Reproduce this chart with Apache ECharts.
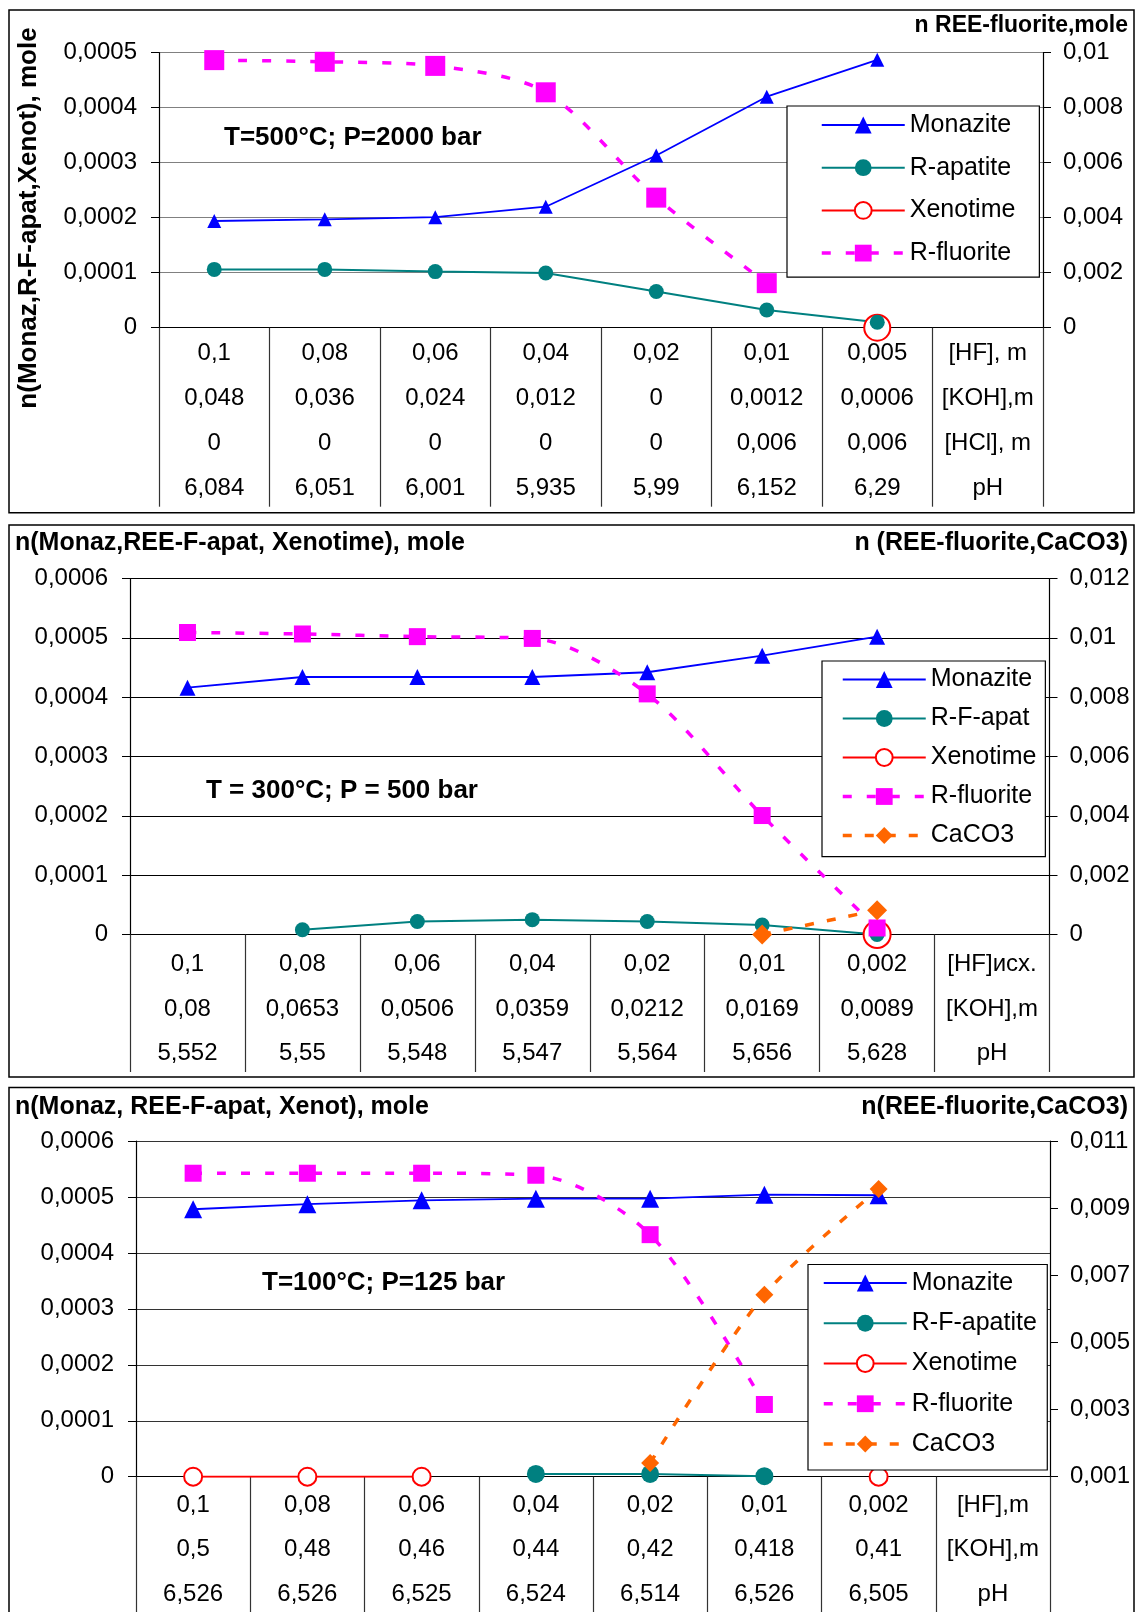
<!DOCTYPE html>
<html><head><meta charset="utf-8">
<script src="https://cdn.jsdelivr.net/npm/echarts/dist/echarts.min.js"></script>
<style>html,body{margin:0;padding:0;background:#fff}#c{width:1136px;height:1612px}</style>
</head><body><div id="c"></div>
<script>
// ---------- Panel 1: T=500°C; P=2000 bar ----------
const p1HF  = ['0,1','0,08','0,06','0,04','0,02','0,01','0,005','[HF], m'];
const p1KOH = ['0,048','0,036','0,024','0,012','0','0,0012','0,0006','[KOH],m'];
const p1HCl = ['0','0','0','0','0','0,006','0,006','[HCl], m'];
const p1pH  = ['6,084','6,051','6,001','5,935','5,99','6,152','6,29','pH'];
const p1Monazite = [0.000194, 0.000197, 0.000201, 0.00022, 0.000313, 0.00042, 0.000487];
const p1Apatite  = [0.000106, 0.000106, 0.000102, 0.0000994, 0.0000659, 0.0000323, 0.0000098];
const p1Xenotime = [null, null, null, null, null, null, 0];
const p1Fluorite = [0.00973, 0.00967, 0.00952, 0.00856, 0.00473, 0.00162, null];

// ---------- Panel 2: T = 300°C; P = 500 bar ----------
const p2HF  = ['0,1','0,08','0,06','0,04','0,02','0,01','0,002','[HF]исх.'];
const p2KOH = ['0,08','0,0653','0,0506','0,0359','0,0212','0,0169','0,0089','[KOH],m'];
const p2pH  = ['5,552','5,55','5,548','5,547','5,564','5,656','5,628','pH'];
const p2Monazite = [0.000416, 0.000434, 0.000434, 0.000434, 0.000442, 0.00047, 0.000502];
const p2Apatite  = [null, 0.000008, 0.000022, 0.000025, 0.000022, 0.000016, 0];
const p2Xenotime = [null, null, null, null, null, null, 0];
const p2Fluorite = [0.01018, 0.01013, 0.01004, 0.00998, 0.00811, 0.00401, 0.00022];
const p2CaCO3    = [null, null, null, null, null, 0, 0.00082];

// ---------- Panel 3: T=100°C; P=125 bar ----------
const p3HF  = ['0,1','0,08','0,06','0,04','0,02','0,01','0,002','[HF],m'];
const p3KOH = ['0,5','0,48','0,46','0,44','0,42','0,418','0,41','[KOH],m'];
const p3pH  = ['6,526','6,526','6,525','6,524','6,514','6,526','6,505','pH'];
const p3Monazite = [0.000478, 0.000487, 0.000494, 0.000497, 0.000497, 0.000504, 0.000503];
const p3Apatite  = [null, null, null, 0.000005, 0.000005, 0.000001, null];
const p3Xenotime = [0, 0, 0, null, null, null, 0];
const p3Fluorite = [0.01004, 0.01004, 0.01004, 0.00998, 0.00821, 0.00315, null];
const p3CaCO3    = [null, null, null, null, 0.00141, 0.00642, 0.00957];

const FONT = '"Liberation Sans", Arial, sans-serif';
const C_MON = '#0000FF', C_APA = '#008080', C_XEN = '#FF0000', C_FLU = '#FF00FF', C_CAC = '#FF6600';

function fmt(v){ if (Math.abs(v) < 1e-12) return '0'; return String(+v.toFixed(6)).replace('.', ','); }
function cats(){ const rows = Array.from(arguments); return rows[0].map((_, i) => rows.map(r => r[i]).join('\n')); }

const grids = [
  {left:159, right:93, top:52.7, height:275},
  {left:130, right:86.5, top:578.5, height:356},
  {left:136, right:86, top:1141, height:335.7}
];
const gridColors = ['#808080', '#000000', '#333333'];
const tickLen = [179, 137.5, 140];
const labMargin = [3, 7.5, 6];
const labLH = [45, 44.7, 44.5];
const catData = [cats(p1HF, p1KOH, p1HCl, p1pH), cats(p2HF, p2KOH, p2pH), cats(p3HF, p3KOH, p3pH)];
const rightAx = [{min:0, max:0.01, interval:0.002}, {min:0, max:0.012, interval:0.002}, {min:0.001, max:0.011, interval:0.002}];
const leftAx = [{min:0, max:0.0005, interval:0.0001}, {min:0, max:0.0006, interval:0.0001}, {min:0, max:0.0006, interval:0.0001}];

const xAxis = [], yAxis = [];
for (let g = 0; g < 3; g++) {
  xAxis.push({
    type:'category', gridIndex:g, data:catData[g], boundaryGap:true,
    axisLine:{show:true, onZero:false, lineStyle:{color:'#000', width:1.2}},
    axisTick:{show:true, interval:0, length:tickLen[g], lineStyle:{color:'#333', width:1.2}},
    axisLabel:{interval:0, margin:labMargin[g], color:'#000', fontSize:24, lineHeight:labLH[g], fontFamily:FONT, hideOverlap:false},
    splitLine:{show:false}
  });
  yAxis.push({
    type:'value', gridIndex:g, position:'left', min:leftAx[g].min, max:leftAx[g].max, interval:leftAx[g].interval,
    axisLine:{show:true, onZero:false, lineStyle:{color:'#000', width:1.2}},
    axisTick:{show:true, length:8, lineStyle:{color:'#000'}},
    axisLabel:{margin:22, formatter:fmt, color:'#000', fontSize:24, fontFamily:FONT, showMinLabel:true, showMaxLabel:true},
    splitLine:{show:true, lineStyle:{color:gridColors[g], width:1.2}}
  });
  yAxis.push({
    type:'value', gridIndex:g, position:'right', min:rightAx[g].min, max:rightAx[g].max, interval:rightAx[g].interval,
    axisLine:{show:true, onZero:false, lineStyle:{color:'#000', width:1.2}},
    axisTick:{show:true, length:8, lineStyle:{color:'#000'}},
    axisLabel:{margin:20, formatter:fmt, color:'#000', fontSize:24, fontFamily:FONT, showMinLabel:true, showMaxLabel:true},
    splitLine:{show:false}
  });
}

function ser(name, data, g, right, kind, size){
  const base = {name, type:'line', data, xAxisIndex:g, yAxisIndex:g*2 + (right?1:0),
    showSymbol:true, showAllSymbol:true, symbolSize:size, connectNulls:false, animation:false};
  if (kind === 'mon') Object.assign(base, {symbol:'triangle', itemStyle:{color:C_MON, borderWidth:0}, lineStyle:{color:C_MON, width:1.8}});
  if (kind === 'apa') Object.assign(base, {symbol:'circle', itemStyle:{color:C_APA, borderWidth:0}, lineStyle:{color:C_APA, width:2}});
  if (kind === 'xen') Object.assign(base, {symbol:'emptyCircle', itemStyle:{color:C_XEN, borderColor:C_XEN, borderWidth:2}, lineStyle:{color:C_XEN, width:2}});
  if (kind === 'flu') Object.assign(base, {symbol:'rect', smooth:0.3, itemStyle:{color:C_FLU, borderWidth:0}, lineStyle:{color:C_FLU, width:3.5, type:[9,15]}});
  if (kind === 'cac') Object.assign(base, {symbol:'diamond', smooth:0.3, itemStyle:{color:C_CAC, borderWidth:0}, lineStyle:{color:C_CAC, width:3.5, type:[9,13]}});
  return base;
}

const series = [
  ser('Monazite', p1Monazite, 0, false, 'mon', 14),
  ser('Xenotime', p1Xenotime, 0, false, 'xen', 26),
  ser('R-apatite', p1Apatite, 0, false, 'apa', 15),
  ser('R-fluorite', p1Fluorite, 0, true, 'flu', 20),

  ser('Monazite', p2Monazite, 1, false, 'mon', 16),
  ser('Xenotime', p2Xenotime, 1, false, 'xen', 27),
  ser('R-F-apat', p2Apatite, 1, false, 'apa', 15),
  ser('R-fluorite', p2Fluorite, 1, true, 'flu', 17),
  ser('CaCO3', p2CaCO3, 1, true, 'cac', 20),

  ser('Monazite', p3Monazite, 2, false, 'mon', 18),
  ser('Xenotime', p3Xenotime, 2, false, 'xen', 18),
  ser('R-F-apatite', p3Apatite, 2, false, 'apa', 18),
  ser('R-fluorite', p3Fluorite, 2, true, 'flu', 17),
  ser('CaCO3', p3CaCO3, 2, true, 'cac', 18)
];

function legend(left, top, padding, gap, names){
  return {orient:'vertical', left, top, padding, itemWidth:83, itemHeight:21, itemGap:gap, selectedMode:false,
    textStyle:{fontSize:25, color:'#000', fontFamily:FONT},
    lineStyle:{width:'inherit'},
    borderColor:'#000', borderWidth:1.2, backgroundColor:'#fff', borderRadius:0, data:names};
}
const legends = [
  legend(787, 106, [6.5, 24, 11.5, 33], 17.7, ['Monazite','R-apatite','Xenotime','R-fluorite']),
  legend(822, 661, [6, 9, 8.7, 19], 14, ['Monazite','R-F-apat','Xenotime','R-fluorite','CaCO3']),
  legend(808, 1264.5, [6, 10.5, 13.5, 14], 15.25, ['Monazite','R-F-apatite','Xenotime','R-fluorite','CaCO3'])
];

function txt(x, y, s, size, align, rot){
  return {type:'text', x, y, rotation:rot||0, z:100, silent:true,
    style:{text:s, font:'bold ' + size + 'px ' + FONT, fill:'#000', textAlign:align, textVerticalAlign:'middle'}};
}
function box(x, y, w, h){
  return {type:'rect', shape:{x, y, width:w, height:h}, z:-1, silent:true, style:{fill:null, stroke:'#000', lineWidth:1.5}};
}
const graphic = [
  box(9, 10, 1125, 502.7), box(9, 525, 1125, 552), box(9, 1087.6, 1125, 600),
  txt(29, 218, 'n(Monaz,R-F-apat,Xenot), mole', 26, 'center', Math.PI/2),
  txt(1128, 26, 'n REE-fluorite,mole', 23, 'right'),
  txt(224, 138, 'T=500°C; P=2000 bar', 26, 'left'),
  txt(15, 543, 'n(Monaz,REE-F-apat, Xenotime), mole', 25, 'left'),
  txt(1128, 543, 'n (REE-fluorite,CaCO3)', 25, 'right'),
  txt(206, 790.5, 'T = 300°C; P = 500 bar', 26, 'left'),
  txt(15, 1107, 'n(Monaz, REE-F-apat, Xenot), mole', 25, 'left'),
  txt(1128, 1107, 'n(REE-fluorite,CaCO3)', 25, 'right'),
  txt(262, 1283, 'T=100°C; P=125 bar', 26, 'left')
];

const chart = echarts.init(document.getElementById('c'), null, {renderer:'canvas'});
chart.setOption({
  animation:false, backgroundColor:'#fff',
  textStyle:{fontFamily:FONT},
  grid: grids.map(g => Object.assign({containLabel:false, outerBoundsMode:'none'}, g)),
  xAxis, yAxis, series, legend:legends, graphic
});
</script></body></html>
